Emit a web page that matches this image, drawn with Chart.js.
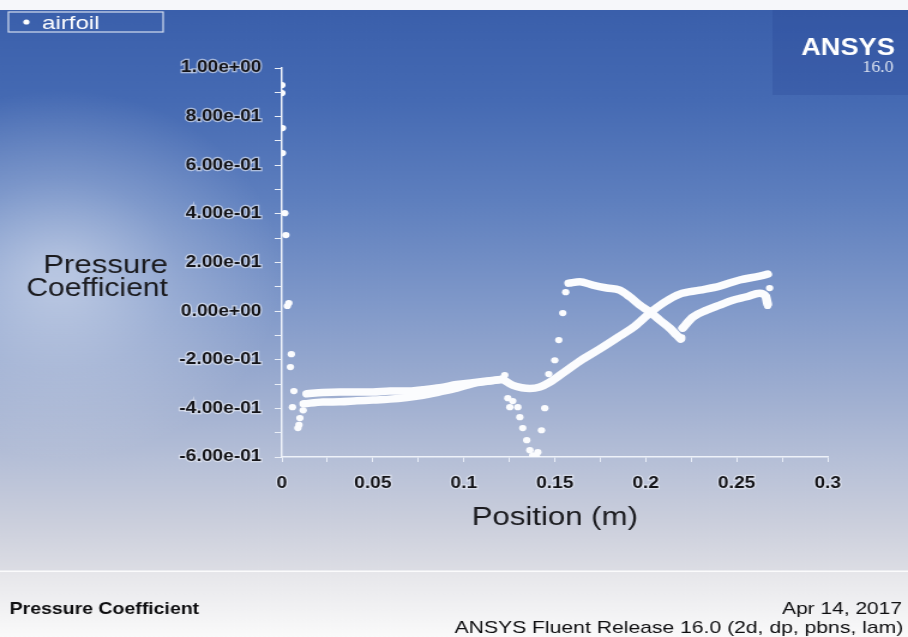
<!DOCTYPE html>
<html>
<head>
<meta charset="utf-8">
<title>Pressure Coefficient</title>
<script src="https://cdn.jsdelivr.net/npm/chart.js@4.4.1/dist/chart.umd.min.js"></script>
<style>
  html, body { margin: 0; padding: 0; background: #ffffff; overflow: hidden; }
  #plot { display: block; }
</style>
</head>
<body>
<!-- the XY plot is laid out on a 757px-wide canvas and shown 908px wide -->
<canvas id="plot" width="757" height="637" style="width:908px;height:637px"></canvas>
<script>
// Pressure coefficient along the airfoil surface, position in metres.

// isolated nodes around the leading edge
const leadingX  = [0.0000, 0.0000, 0.0003, 0.0003, 0.0016, 0.0022, 0.0030, 0.0038, 0.0052, 0.0047, 0.0066, 0.0058, 0.0099, 0.0088, 0.0094, 0.0117];
const leadingCp = [0.930, 0.897, 0.753, 0.650, 0.403, 0.313, 0.021, 0.033, -0.177, -0.230, -0.329, -0.395, -0.440, -0.481, -0.468, -0.408];

// the two surfaces running side by side up to x = 0.12
const upperBandX  = [0.0137, 0.0225, 0.0319, 0.0412, 0.0500, 0.0593, 0.0687, 0.0775, 0.0868, 0.0962, 0.1049, 0.1143, 0.1214];
const upperBandCp = [-0.340, -0.335, -0.333, -0.333, -0.333, -0.329, -0.329, -0.323, -0.315, -0.302, -0.294, -0.286, -0.280];
const lowerBandX  = [0.0121, 0.0225, 0.0319, 0.0412, 0.0500, 0.0593, 0.0687, 0.0775, 0.0868, 0.0962, 0.1049, 0.1143, 0.1214];
const lowerBandCp = [-0.381, -0.374, -0.373, -0.369, -0.366, -0.362, -0.355, -0.346, -0.332, -0.317, -0.298, -0.288, -0.280];

// surface that keeps rising to the trailing edge
const riseX  = [0.1214, 0.1269, 0.1319, 0.1363, 0.1418, 0.1473, 0.1544, 0.1637, 0.1747, 0.1857, 0.1940, 0.2022, 0.2104, 0.2187, 0.2297, 0.2407, 0.2516, 0.2626, 0.2670];
const riseCp = [-0.280, -0.305, -0.315, -0.318, -0.312, -0.292, -0.255, -0.206, -0.156, -0.103, -0.062, -0.008, 0.037, 0.070, 0.086, 0.103, 0.128, 0.144, 0.152];

// suction dip behind the step and recovery to the peak
const dipX  = [0.1225, 0.1242, 0.1253, 0.1269, 0.1297, 0.1308, 0.1324, 0.1346, 0.1363, 0.1379, 0.1401, 0.1407, 0.1427, 0.1445, 0.1467, 0.1500, 0.1522, 0.1544, 0.1560];
const dipCp = [-0.263, -0.358, -0.395, -0.370, -0.395, -0.436, -0.481, -0.531, -0.572, -0.593, -0.601, -0.580, -0.490, -0.399, -0.259, -0.202, -0.119, -0.008, 0.078];

// falling branch after the peak, then the last rising stretch
const fallX  = [0.1577, 0.1637, 0.1709, 0.1786, 0.1857, 0.1912, 0.1967, 0.2022, 0.2077, 0.2132, 0.2170, 0.2192];
const fallCp = [0.115, 0.121, 0.107, 0.095, 0.086, 0.059, 0.025, -0.003, -0.037, -0.070, -0.099, -0.115];
const tailX  = [0.2203, 0.2258, 0.2335, 0.2407, 0.2478, 0.2555, 0.2626, 0.2659, 0.2670];
const tailCp = [-0.070, -0.025, 0.004, 0.025, 0.045, 0.059, 0.074, 0.062, 0.029];

// loose nodes at the trailing edge
const trailingX  = [0.2681, 0.2670, 0.2198];
const trailingCp = [0.095, 0.021, -0.108];

// axis labelling
const xTickValues = [0, 0.05, 0.1, 0.15, 0.2, 0.25, 0.3];
const xTickLabels = ['0', '0.05', '0.1', '0.15', '0.2', '0.25', '0.3'];
const yTickValues = [1.0, 0.8, 0.6, 0.4, 0.2, 0.0, -0.2, -0.4, -0.6];
const yTickLabels = ['1.00e+00', '8.00e-01', '6.00e-01', '4.00e-01', '2.00e-01', '0.00e+00', '-2.00e-01', '-4.00e-01', '-6.00e-01'];

const seriesName = 'airfoil';
const xTitle = 'Position (m)';
const yTitle = ['Pressure', 'Coefficient'];
const footerLeft = 'Pressure Coefficient';
const footerDate = 'Apr 14, 2017';
const footerRelease = 'ANSYS Fluent Release 16.0 (2d, dp, pbns, lam)';

const zip = (xs, ys) => xs.map((x, i) => ({ x: x, y: ys[i] }));
const labelFor = (values, labels, v) => {
  const i = values.findIndex(t => Math.abs(t - v) < 1e-6);
  return i < 0 ? '' : labels[i];
};

// draw text squeezed/stretched to an exact width
function fitText(ctx, text, x, y, w, align) {
  const m = ctx.measureText(text).width;
  ctx.save();
  ctx.textAlign = 'left';
  ctx.translate(align === 'right' ? x - w : x, y);
  ctx.scale(w / m, 1);
  ctx.fillText(text, 0, 0);
  ctx.restore();
}

const SANS = '"Liberation Sans", Arial, sans-serif';

const backdrop = {
  id: 'backdrop',
  beforeDraw(chart) {
    const { ctx, width, height } = chart;
    ctx.save();
    ctx.fillStyle = '#f6f7fa';
    ctx.fillRect(0, 0, width, height);

    const g = ctx.createLinearGradient(0, 10, 0, 571);
    g.addColorStop(0.00, '#3a5fab');
    g.addColorStop(0.16, '#456ab3');
    g.addColorStop(0.34, '#5e7fbe');
    g.addColorStop(0.52, '#7f98c9');
    g.addColorStop(0.70, '#a1b0d1');
    g.addColorStop(0.80, '#b5bfd7');
    g.addColorStop(0.91, '#cacedc');
    g.addColorStop(1.00, '#dcdde4');
    ctx.fillStyle = g;
    ctx.fillRect(0, 10, width, 561);

    // soft light patch on the left side
    const r = ctx.createRadialGradient(50, 275, 10, 50, 275, 185);
    r.addColorStop(0, 'rgba(255,255,255,0.48)');
    r.addColorStop(0.5, 'rgba(255,255,255,0.2)');
    r.addColorStop(1, 'rgba(255,255,255,0)');
    ctx.fillStyle = r;
    ctx.fillRect(0, 10, 400, 561);

    // logo panel
    ctx.fillStyle = 'rgba(30,60,140,0.22)';
    ctx.fillRect(644, 10, width - 644, 85);

    // footer strip
    const f = ctx.createLinearGradient(0, 572, 0, height);
    f.addColorStop(0, '#e6e6ea');
    f.addColorStop(1, '#fafafa');
    ctx.fillStyle = f;
    ctx.fillRect(0, 572, width, height - 572);
    ctx.fillStyle = '#fbfbfc';
    ctx.fillRect(0, 570.5, width, 1.5);
    ctx.restore();
  },
  afterDraw(chart) {
    const { ctx } = chart;
    ctx.save();
    ctx.textBaseline = 'alphabetic';

    // legend box
    ctx.strokeStyle = '#d3dcee';
    ctx.lineWidth = 1.2;
    ctx.strokeRect(7, 12, 129, 20);
    ctx.fillStyle = '#ffffff';
    ctx.beginPath();
    ctx.arc(22, 22, 2.6, 0, Math.PI * 2);
    ctx.fill();
    ctx.font = '19px ' + SANS;
    fitText(ctx, seriesName, 35, 29, 48, 'left');

    // logo text
    ctx.font = 'bold 24px ' + SANS;
    ctx.fillStyle = '#ffffff';
    fitText(ctx, 'ANSYS', 746, 55, 78, 'right');
    ctx.font = '16px "Liberation Serif", serif';
    ctx.fillStyle = '#dde4f1';
    fitText(ctx, '16.0', 745, 72, 26, 'right');

    // vertical axis title, written horizontally
    ctx.font = '25px ' + SANS;
    ctx.fillStyle = '#1b1b1f';
    fitText(ctx, yTitle[0], 140, 273, 104, 'right');
    fitText(ctx, yTitle[1], 140, 296, 118, 'right');

    // footer
    ctx.fillStyle = '#0e0e10';
    ctx.font = 'bold 17px ' + SANS;
    fitText(ctx, footerLeft, 8, 614, 158, 'left');
    ctx.font = '17px ' + SANS;
    fitText(ctx, footerDate, 752, 614, 100, 'right');
    fitText(ctx, footerRelease, 753, 633, 374, 'right');
    ctx.restore();
  }
};

const bandStyle = {
  showLine: true,
  pointRadius: 0,
  pointHoverRadius: 0,
  borderColor: '#fbfcfe',
  borderWidth: 7.5,
  borderCapStyle: 'round',
  borderJoinStyle: 'round',
  cubicInterpolationMode: 'monotone',
  fill: false
};

const discrete = zip(leadingX, leadingCp).concat(zip(dipX, dipCp), zip(trailingX, trailingCp));

const tickFont = { family: SANS, size: 16, weight: 'bold' };

const canvas = document.getElementById('plot');
new Chart(canvas, {
  type: 'scatter',
  data: {
    datasets: [
      { label: seriesName, data: discrete, pointRadius: 3.1, pointBorderWidth: 0, backgroundColor: '#fbfcfe', borderColor: '#fbfcfe' },
      Object.assign({ label: seriesName + ' upper', data: zip(upperBandX, upperBandCp) }, bandStyle),
      Object.assign({ label: seriesName + ' lower', data: zip(lowerBandX, lowerBandCp) }, bandStyle),
      Object.assign({ label: seriesName + ' rise', data: zip(riseX, riseCp) }, bandStyle),
      Object.assign({ label: seriesName + ' fall', data: zip(fallX, fallCp) }, bandStyle),
      Object.assign({ label: seriesName + ' tail', data: zip(tailX, tailCp) }, bandStyle)
    ]
  },
  options: {
    responsive: false,
    maintainAspectRatio: false,
    animation: false,
    devicePixelRatio: 1,
    layout: { padding: { left: 0, right: 67, top: 68, bottom: 90 } },
    plugins: { legend: { display: false }, tooltip: { enabled: false } },
    scales: {
      x: {
        type: 'linear',
        min: 0,
        max: 0.3,
        afterFit(scale) { scale.height = 90; },
        ticks: {
          stepSize: 0.025,
          autoSkip: false,
          maxRotation: 0,
          minRotation: 0,
          padding: 12,
          color: '#141418',
          font: tickFont,
          textStrokeColor: 'rgba(235,238,246,0.6)',
          textStrokeWidth: 2.5,
          callback: v => labelFor(xTickValues, xTickLabels, v)
        },
        grid: { drawOnChartArea: false, drawTicks: true, tickLength: 5, tickColor: '#e9eef7', tickWidth: 1 },
        border: { display: true, color: '#eef2f9', width: 1.5 },
        title: {
          display: true,
          text: xTitle,
          color: '#1b1b1f',
          font: { family: SANS, size: 26, weight: 'normal' },
          padding: { top: 0, bottom: 14 }
        }
      },
      y: {
        type: 'linear',
        min: -0.6,
        max: 1.0,
        afterFit(scale) { scale.width = 235; },
        ticks: {
          stepSize: 0.1,
          autoSkip: false,
          padding: 11,
          color: '#141418',
          font: tickFont,
          textStrokeColor: 'rgba(235,238,246,0.6)',
          textStrokeWidth: 2.5,
          callback: v => labelFor(yTickValues, yTickLabels, v)
        },
        grid: { drawOnChartArea: false, drawTicks: true, tickLength: 6, tickColor: '#e9eef7', tickWidth: 1 },
        border: { display: true, color: '#eef2f9', width: 1.5 }
      }
    }
  },
  plugins: [backdrop]
});
canvas.style.width = '908px';
canvas.style.height = '637px';
</script>
</body>
</html>
